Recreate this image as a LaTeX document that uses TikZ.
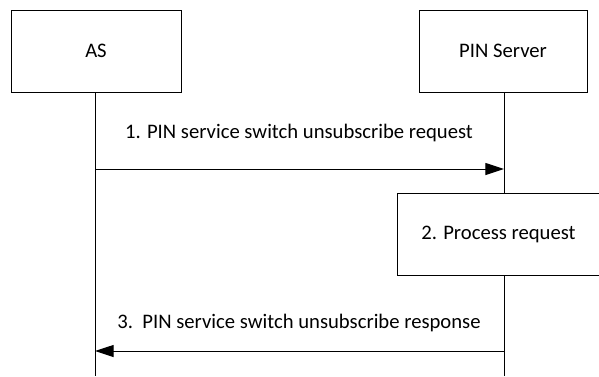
\documentclass[tikz,border=0pt]{standalone}
\usepackage{fontspec}
\setmainfont{Carlito}
\usetikzlibrary{arrows.meta, positioning}

\begin{document}
\begin{tikzpicture}[x=0.75pt, y=-0.75pt, line width=0.75pt, >={Triangle[length=14pt, width=9pt]},
    entity/.style={draw, minimum width=170*0.75pt, minimum height=82*0.75pt, inner sep=0pt, font=\fontsize{15.5}{18}\selectfont},
    msg/.style={font=\fontsize{15.5}{18}\selectfont}]
        \useasboundingbox (0,0) rectangle (599,376);
        % entities
        \node[entity] (as) at (96,51) {AS};
        \node[entity, minimum width=168*0.75pt] (pin) at (503,51) {PIN Server};
        % lifeline ends
        \coordinate (asA) at (95,169);
        \coordinate (pinA) at (504,169);
        \coordinate (asB) at (95,351);
        \coordinate (pinB) at (504,351);
        \coordinate (asEnd) at (95,376);
        \coordinate (pinEnd) at (504,376);
        % processing box
        \node[entity, minimum width=202*0.75pt, anchor=north west] (proc) at (397,193) {2. Process request};
        % lifelines
        \draw (as.south -| asEnd) -- (asEnd);
        \draw (pin.south -| pinEnd) -- (proc.north -| pinEnd);
        \draw (proc.south -| pinEnd) -- (pinEnd);
        % step 1
        \draw[->] (asA) -- (pinA);
        \node[msg] (m1) at (299,133) {1. PIN service switch unsubscribe request};
        % step 3
        \draw[->] (pinB) -- (asB);
        \node[msg] (m3) at (299,323) {3.\ \ PIN service switch unsubscribe response};
\end{tikzpicture}
\end{document}
